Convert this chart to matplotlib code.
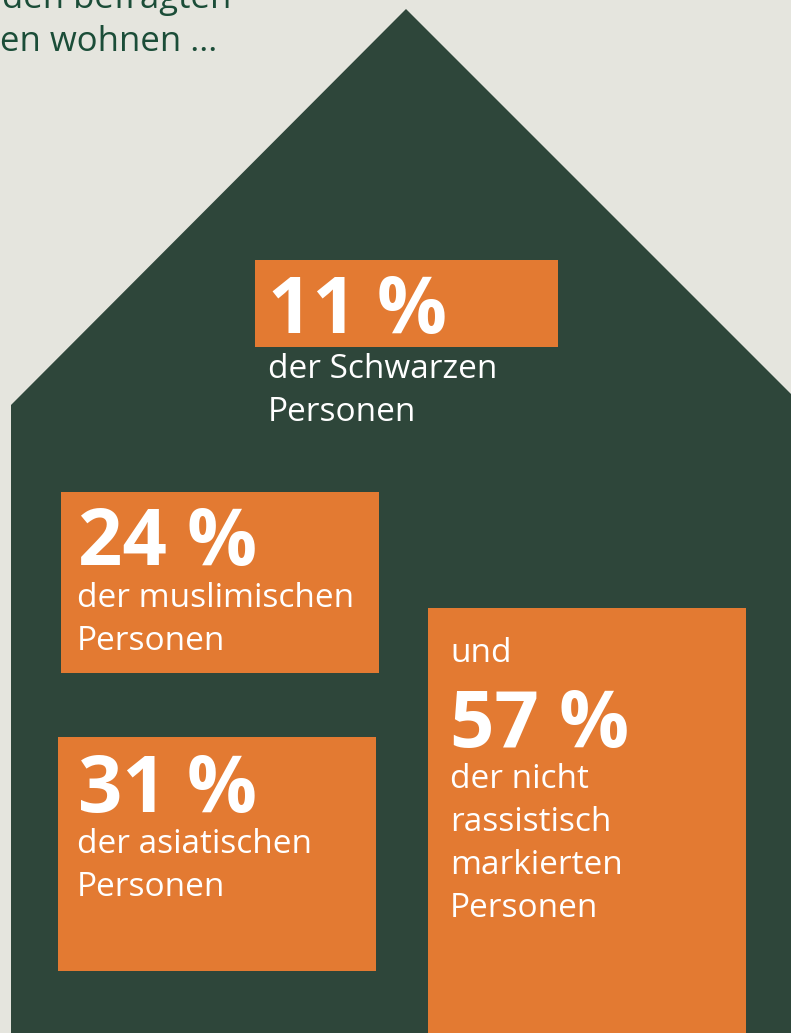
import matplotlib
matplotlib.use("Agg")
import matplotlib.pyplot as plt
from matplotlib.patches import Rectangle, Polygon

# data
values = [11, 24, 31, 57]
big_labels = ["11 %", "24 %", "31 %", "57 %"]
sub_labels = ["der Schwarzen\nPersonen",
              "der muslimischen\nPersonen",
              "der asiatischen\nPersonen",
              "der nicht\nrassistisch\nmarkierten\nPersonen"]
intro_lines = ["den befragten", "en wohnen ..."]

# layout (pixels)
box_left = [255, 61, 58, 428]
box_top = [260, 492, 737, 608]
box_width = [303, 318, 318, 318]
area_per_pct = 2400.0

bg = "#e5e5de"
house = "#2e463a"
orange = "#e37a32"
green_txt = "#1b4d38"
font = "Open Sans"

fig = plt.figure(figsize=(7.91, 10.33), dpi=100)
fig.patch.set_facecolor(bg)
ax = fig.add_axes([0, 0, 1, 1])
ax.set_xlim(0, 791)
ax.set_ylim(1033, 0)
ax.axis("off")

# house
ax.add_patch(Polygon([(11, 1040), (11, 405), (406, 9), (791, 394), (791, 1040)],
                     closed=True, facecolor=house, edgecolor="none"))

# intro text (cut off at the top/left like in the original)
ax.text(2, 8, intro_lines[0], fontsize=25, family=font, color=green_txt, va="baseline")
ax.text(0, 51, intro_lines[1], fontsize=25, family=font, color=green_txt, va="baseline")

for i, v in enumerate(values):
    h = v * area_per_pct / box_width[i]
    ax.add_patch(Rectangle((box_left[i], box_top[i]), box_width[i], h,
                           facecolor=orange, edgecolor="none"))

# numbers and labels
num_pos = [(268, 333), (78, 565), (78, 812), (450, 747)]
sub_pos = [(268, 378), (77, 607), (77, 853), (450, 788)]
for i in range(len(values)):
    x, y = num_pos[i]
    ax.text(x, y, big_labels[i], fontsize=56, family=font, weight="bold",
            color="white", va="baseline")
    x, y = sub_pos[i]
    for j, line in enumerate(sub_labels[i].split("\n")):
        ax.text(x, y + j * 43, line, fontsize=24, family=font,
                color="white", va="baseline")

ax.text(450, 662, "und", fontsize=24, family=font, color="white", va="baseline")

fig.savefig("out.png", dpi=100, facecolor=bg)
